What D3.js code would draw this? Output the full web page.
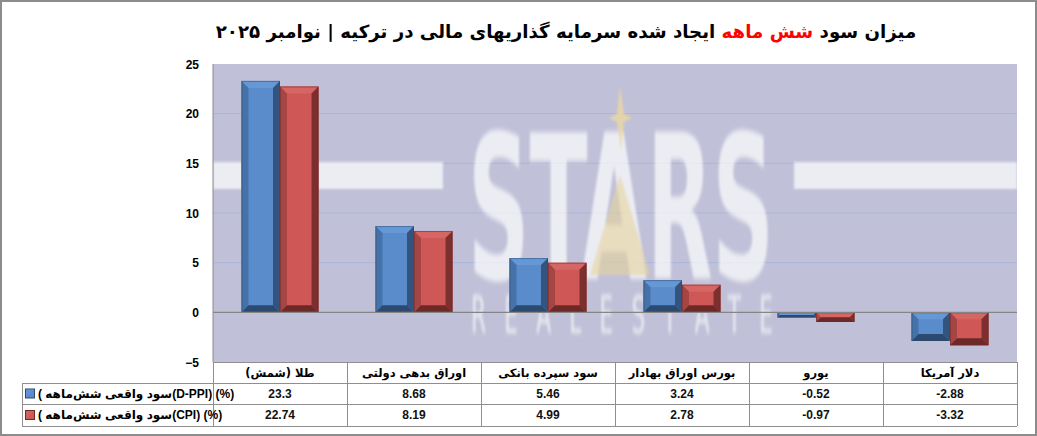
<!DOCTYPE html>
<html><head><meta charset="utf-8">
<script src="https://cdn.jsdelivr.net/npm/d3@7"></script>
<style>
html,body{margin:0;padding:0;background:#fff;}
#wrap{position:relative;width:1037px;height:436px;overflow:hidden;}
#title{position:absolute;top:21px;left:566px;transform:translateX(-50%);white-space:nowrap;direction:rtl;
 font-family:"DejaVu Sans",sans-serif;font-weight:bold;font-size:18.2px;color:#000;}
#title .red{color:#ff0000;}
svg{position:absolute;left:0;top:0;}
</style></head>
<body><div id="wrap">
<svg id="chart" width="1037" height="436"></svg>
<div id="title">میزان سود <span class="red">شش ماهه</span> ایجاد شده سرمایه گذاریهای مالی در ترکیه | نوامبر ۲۰۲۵</div>
</div>
<script>
const categories = ["طلا (شمش)", "اوراق بدهی دولتی", "سود سپرده بانکی", "بورس اوراق بهادار", "یورو", "دلار آمریکا"];
const seriesNames = ["(D-PPI) (%)", "(CPI) (%)"];
const seriesLabel = "سود واقعی شش‌ماهه";
const dppi = [23.3, 8.68, 5.46, 3.24, -0.52, -2.88];
const cpi = [22.74, 8.19, 4.99, 2.78, -0.97, -3.32];
const yTicks = [-5, 0, 5, 10, 15, 20, 25];

const svg = d3.select("#chart");
const W = 1037, H = 436;
const plot = {x0: 213, x1: 1017, y0: 64, y1: 362};
const numFont = '"Liberation Sans","DejaVu Sans",sans-serif';

// outer border
svg.append("rect").attr("x",1).attr("y",1).attr("width",W-2).attr("height",H-2)
  .attr("fill","#fff").attr("stroke","#8c8c8c").attr("stroke-width",2);

const x = d3.scaleBand().domain(categories).range([plot.x0, plot.x1]).paddingInner(0).paddingOuter(0);
const bw = x.bandwidth();
const xs = d3.scaleBand().domain(seriesNames).range([bw*0.2125, bw*0.7875]).padding(0);
const y = d3.scaleLinear().domain([-5, 25]).range([plot.y1, plot.y0]);

// plot background
svg.append("rect").attr("x",plot.x0).attr("y",plot.y0).attr("width",plot.x1-plot.x0).attr("height",plot.y1-plot.y0)
  .attr("fill","#c0c0d8");

// gridlines
svg.append("g").selectAll("line").data(yTicks.filter(t=>t!==0 && t!==-5 && t!==25)).join("line")
  .attr("x1",plot.x0).attr("x2",plot.x1).attr("y1",d=>y(d)).attr("y2",d=>y(d))
  .attr("stroke","#a9b5d9").attr("stroke-width",1);

// watermark (logo)
const wm = svg.append("g").attr("pointer-events","none");
svg.append("defs").append("filter").attr("id","soft").append("feGaussianBlur").attr("stdDeviation",1.2);
wm.append("rect").attr("x",plot.x0).attr("y",162).attr("width",443-plot.x0).attr("height",27).attr("fill","#fff").attr("opacity",0.7).attr("filter","url(#soft)");
wm.append("rect").attr("x",794).attr("y",162).attr("width",plot.x1-794).attr("height",27).attr("fill","#fff").attr("opacity",0.7).attr("filter","url(#soft)");
const logo = wm.append("text").attr("transform","translate(468,279) scale(1,2.4)")
  .attr("font-family","DejaVu Sans").attr("fill","#fff").attr("opacity",0.7).attr("filter","url(#soft)");
logo.append("tspan").attr("x",0).attr("y",0).attr("font-weight","bold").attr("font-size",84)
  .attr("textLength",306).attr("lengthAdjust","spacingAndGlyphs").text("STARS");
logo.append("tspan").attr("x",3).attr("y",22.5).attr("font-size",21.7)
  .attr("textLength",302).attr("lengthAdjust","spacing").text("R E A L   E S T A T E");
wm.append("path").attr("d","M620,86 L624,114 L632,118 L624,122 L621,150 L617,122 L609,118 L617,114 Z")
  .attr("fill","#ecd9a0").attr("opacity",0.8).attr("filter","url(#soft)");
wm.append("path").attr("d","M620,175 L650,275 L590,275 Z").attr("fill","#e6d49c").attr("opacity",0.6).attr("filter","url(#soft)");

// bars
const colors = [
  {face:"#5a8bcb", top:"#6798d6", left:"#4572a9", right:"#33547e", bottom:"#2c4a70"},
  {face:"#cf5856", top:"#d66663", left:"#a64644", right:"#7b302f", bottom:"#6c2928"}
];
const rows = categories.map((c,i)=>({cat:c, vals:[dppi[i], cpi[i]]}));
const bars = [];
rows.forEach(r=>r.vals.forEach((v,j)=>bars.push({cat:r.cat, s:seriesNames[j], j, v})));
const bg = svg.append("g");
bars.forEach(b=>{
  const x0 = x(b.cat)+xs(b.s), w = xs.bandwidth();
  const yt = Math.min(y(b.v), y(0)), yb = Math.max(y(b.v), y(0));
  const h = yb-yt;
  const bv = Math.min(7, h/2, w/2);
  const c = colors[b.j];
  const g = bg.append("g");
  g.append("rect").attr("x",x0).attr("y",yt).attr("width",w).attr("height",h).attr("fill",c.face);
  g.append("path").attr("d",`M${x0},${yt} L${x0+w},${yt} L${x0+w-bv},${yt+bv} L${x0+bv},${yt+bv} Z`).attr("fill",c.top);
  g.append("path").attr("d",`M${x0},${yt} L${x0+bv},${yt+bv} L${x0+bv},${yb-bv} L${x0},${yb} Z`).attr("fill",c.left);
  g.append("path").attr("d",`M${x0+w},${yt} L${x0+w},${yb} L${x0+w-bv},${yb-bv} L${x0+w-bv},${yt+bv} Z`).attr("fill",c.right);
  g.append("path").attr("d",`M${x0},${yb} L${x0+w},${yb} L${x0+w-bv},${yb-bv} L${x0+bv},${yb-bv} Z`).attr("fill",c.bottom);
  g.append("rect").attr("x",x0+0.5).attr("y",yt+0.5).attr("width",w-1).attr("height",Math.max(0,h-1))
    .attr("fill","none").attr("stroke",c.bottom).attr("stroke-opacity",0.5).attr("stroke-width",1);
});

// zero line and axis
svg.append("line").attr("x1",plot.x0).attr("x2",plot.x1).attr("y1",y(0)).attr("y2",y(0)).attr("stroke","#858585").attr("stroke-width",1.3);
svg.append("line").attr("x1",plot.x0).attr("x2",plot.x0).attr("y1",plot.y0).attr("y2",plot.y1).attr("stroke","#8a8a8a");

// y tick labels
const yAxis = d3.axisLeft(y).tickValues(yTicks).tickSize(0).tickPadding(0).tickFormat(d3.format("d"));
const ya = svg.append("g").attr("transform",`translate(199,0)`).call(yAxis);
ya.select(".domain").remove();
ya.selectAll("text").attr("font-family",numFont).attr("font-weight","bold").attr("font-size",12).attr("fill","#000").attr("dy","0.35em");

// data table
const tY = [362, 383, 404, 426];
const lineC = "#8f8f8f";
const tg = svg.append("g");
tg.append("line").attr("x1",plot.x0).attr("x2",plot.x1).attr("y1",tY[0]+0.5).attr("y2",tY[0]+0.5).attr("stroke",lineC);
[1,2,3].forEach(k=>tg.append("line").attr("x1",22).attr("x2",plot.x1).attr("y1",tY[k]+0.5).attr("y2",tY[k]+0.5).attr("stroke",lineC));
categories.concat([null]).forEach((c,i)=>{
  const xx = c===null ? plot.x1 : x(c);
  tg.append("line").attr("x1",xx+0.5).attr("x2",xx+0.5).attr("y1",tY[0]).attr("y2",tY[3]).attr("stroke",lineC);
});
tg.append("line").attr("x1",22.5).attr("x2",22.5).attr("y1",tY[1]).attr("y2",tY[3]).attr("stroke",lineC);

// category labels
tg.selectAll("text.cat").data(categories).join("text").attr("class","cat")
  .attr("x",d=>x(d)+bw/2).attr("y",(tY[0]+tY[1])/2).attr("dy","0.35em")
  .attr("text-anchor","middle").attr("direction","rtl")
  .attr("font-family","DejaVu Sans").attr("font-weight","bold").attr("font-size",11.5).attr("fill","#000")
  .text(d=>d);

// values
[dppi, cpi].forEach((arr,k)=>{
  tg.selectAll(`text.v${k}`).data(arr).join("text").attr("class",`v${k}`)
    .attr("x",(d,i)=>x(categories[i])+bw/2).attr("y",(tY[k+1]+tY[k+2])/2).attr("dy","0.36em")
    .attr("text-anchor","middle").attr("font-family",numFont).attr("font-weight","bold").attr("font-size",12).attr("fill","#111")
    .text(d=>d);
});

// legend rows
seriesNames.forEach((s,k)=>{
  const cy = (tY[k+1]+tY[k+2])/2;
  const c = colors[k];
  tg.append("rect").attr("x",25.5).attr("y",cy-4.5).attr("width",9).attr("height",9)
    .attr("fill",c.face).attr("stroke",c.bottom).attr("stroke-width",1);
  tg.append("path").attr("d",`M26,${cy-4} L34,${cy-4} L26,${cy+4} Z`).attr("fill",c.top).attr("opacity",0.6);
  tg.append("text").attr("x",38).attr("y",cy).attr("dy","0.36em").attr("direction","ltr")
    .attr("font-family",numFont).attr("font-weight","bold").attr("font-size",12).attr("fill","#000")
    .text("( " + seriesLabel + s);
});
</script>
</body></html>
